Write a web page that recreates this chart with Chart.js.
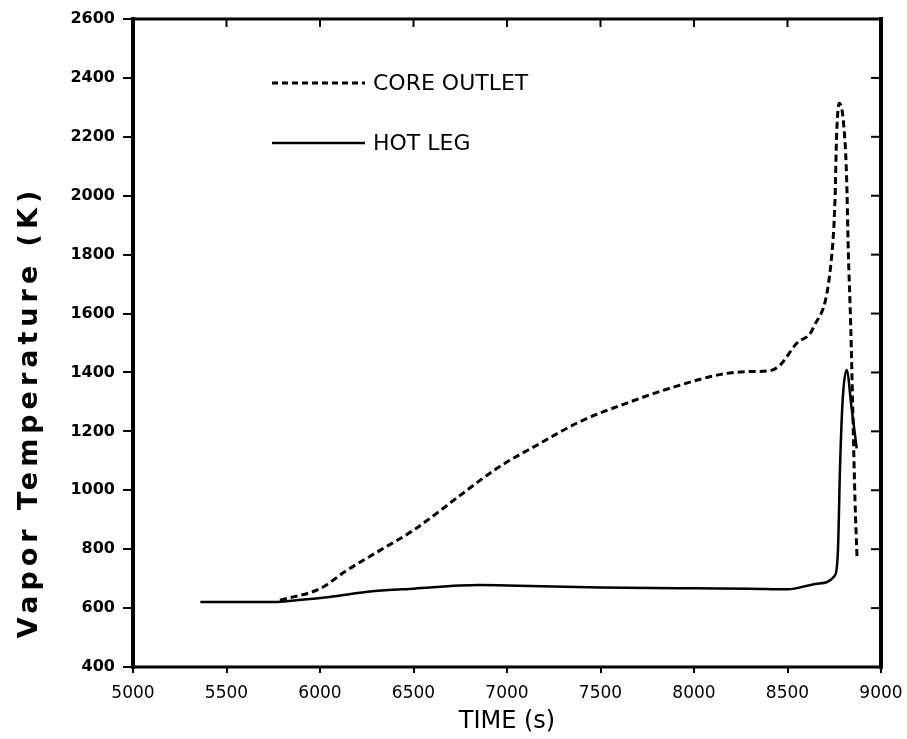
<!DOCTYPE html>
<html>
<head>
<meta charset="utf-8">
<script src="https://cdn.jsdelivr.net/npm/chart.js@4/dist/chart.umd.min.js"></script>
<style>
  html, body { margin: 0; padding: 0; background: #fff; }
  #wrap { width: 907px; height: 739px; }
</style>
</head>
<body>
<div id="wrap"><canvas id="c" width="907" height="739"></canvas></div>
<script>
// ---- data ----
const xTicks = [5000, 5500, 6000, 6500, 7000, 7500, 8000, 8500, 9000];
const yTicks = [400, 600, 800, 1000, 1200, 1400, 1600, 1800, 2000, 2200, 2400, 2600];

const coreTime = [5786, 6000, 6143, 6321, 6499, 6740, 6945, 7176, 7390, 7658, 7925, 8157, 8300, 8406, 8460, 8549, 8638, 8736, 8754, 8763, 8777, 8798, 8816, 8825, 8838, 8850, 8861, 8872];
const coreTemp = [627, 666, 728, 796, 864, 978, 1074, 1159, 1233, 1300, 1357, 1395, 1403, 1406, 1425, 1499, 1552, 1793, 1986, 2212, 2314, 2258, 2065, 1816, 1560, 1250, 966, 770];

const hotTime = [5360, 5770, 5900, 6050, 6280, 6500, 6850, 7000, 7500, 8000, 8300, 8500, 8660, 8755, 8770, 8781, 8795, 8816, 8843, 8870];
const hotTemp = [621, 621, 628, 638, 657, 666, 678, 677, 670, 667, 666, 664, 683, 712, 800, 1080, 1306, 1408, 1278, 1142];

const seriesNames = ['CORE OUTLET', 'HOT LEG'];
const xTitle = 'TIME (s)';
const yTitle = 'Vapor Temperature (K)';

const toPts = (xs, ys) => xs.map((x, i) => ({ x: x, y: ys[i] }));

const framePlugin = {
  id: 'frame',
  afterDatasetsDraw(chart) {
    const ctx = chart.ctx;
    const a = chart.chartArea;
    const xs = chart.scales.x, ys = chart.scales.y;
    ctx.save();
    ctx.strokeStyle = '#000';
    ctx.lineCap = 'square';
    // frame
    ctx.lineWidth = 3;
    ctx.beginPath(); ctx.moveTo(a.left, a.top); ctx.lineTo(a.right, a.top); ctx.stroke();
    ctx.beginPath(); ctx.moveTo(a.left, a.bottom); ctx.lineTo(a.right, a.bottom); ctx.stroke();
    ctx.lineWidth = 4;
    ctx.beginPath(); ctx.moveTo(a.left, a.top); ctx.lineTo(a.left, a.bottom); ctx.stroke();
    ctx.beginPath(); ctx.moveTo(a.right, a.top); ctx.lineTo(a.right, a.bottom); ctx.stroke();
    // inward ticks on top and right
    ctx.lineWidth = 2;
    ctx.lineCap = 'butt';
    xTicks.forEach(v => {
      const px = xs.getPixelForValue(v);
      ctx.beginPath(); ctx.moveTo(px, a.top); ctx.lineTo(px, a.top + 8); ctx.stroke();
    });
    yTicks.forEach(v => {
      const py = ys.getPixelForValue(v);
      ctx.beginPath(); ctx.moveTo(a.right, py); ctx.lineTo(a.right - 10, py); ctx.stroke();
    });
    // legend
    ctx.lineWidth = 3;
    ctx.setLineDash([6, 4]);
    ctx.beginPath(); ctx.moveTo(272, 83); ctx.lineTo(365, 83); ctx.stroke();
    ctx.setLineDash([]);
    ctx.lineWidth = 2.5;
    ctx.beginPath(); ctx.moveTo(272, 143); ctx.lineTo(365, 143); ctx.stroke();
    ctx.fillStyle = '#000';
    ctx.font = '22px "DejaVu Sans"';
    ctx.textBaseline = 'middle';
    ctx.textAlign = 'left';
    ctx.fillText(seriesNames[0], 373, 84);
    ctx.fillText(seriesNames[1], 373, 144);
    // y title
    ctx.save();
    ctx.translate(30, 412);
    ctx.rotate(-Math.PI / 2);
    ctx.font = 'bold 27px "DejaVu Sans"';
    try { ctx.letterSpacing = '5px'; } catch (e) {}
    ctx.textAlign = 'center';
    ctx.textBaseline = 'middle';
    ctx.fillText(yTitle, 0, 0);
    ctx.restore();
    ctx.restore();
  }
};

new Chart(document.getElementById('c'), {
  type: 'scatter',
  data: {
    datasets: [
      {
        label: seriesNames[0],
        data: toPts(coreTime, coreTemp),
        showLine: true,
        borderColor: '#000',
        borderWidth: 3,
        borderDash: [7, 4],
        pointRadius: 0,
        cubicInterpolationMode: 'monotone',
        fill: false
      },
      {
        label: seriesNames[1],
        data: toPts(hotTime, hotTemp),
        showLine: true,
        borderColor: '#000',
        borderWidth: 2.5,
        pointRadius: 0,
        cubicInterpolationMode: 'monotone',
        fill: false
      }
    ]
  },
  options: {
    responsive: false,
    animation: false,
    devicePixelRatio: 1,
    layout: { padding: { top: 19, right: 26, left: 0, bottom: 0 } },
    plugins: { legend: { display: false }, tooltip: { enabled: false } },
    scales: {
      x: {
        type: 'linear',
        min: 5000, max: 9000,
        afterBuildTicks: s => { s.ticks = xTicks.map(v => ({ value: v })); },
        afterFit: s => { s.height = 72; s.paddingLeft = 0; s.paddingRight = 0; },
        grid: { drawOnChartArea: false, drawTicks: true, tickLength: 6, color: '#000', lineWidth: 2 },
        border: { display: false },
        ticks: { color: '#000', padding: 10, font: { family: 'DejaVu Sans', size: 17 }, maxRotation: 0, autoSkip: false, callback: v => String(v) },
        title: { display: true, text: xTitle, color: '#000', font: { family: 'DejaVu Sans', size: 24 }, padding: { top: 0, bottom: 3 } }
      },
      y: {
        type: 'linear',
        min: 400, max: 2600,
        afterBuildTicks: s => { s.ticks = yTicks.map(v => ({ value: v })); },
        afterFit: s => { s.width = 133; s.paddingTop = 0; s.paddingBottom = 0; },
        grid: { drawOnChartArea: false, drawTicks: true, tickLength: 10, color: '#000', lineWidth: 2 },
        border: { display: false },
        ticks: { color: '#000', padding: 8, font: { family: 'DejaVu Sans', size: 16, weight: 'bold' }, autoSkip: false, callback: v => String(v) }
      }
    }
  },
  plugins: [framePlugin]
});
</script>
</body>
</html>
